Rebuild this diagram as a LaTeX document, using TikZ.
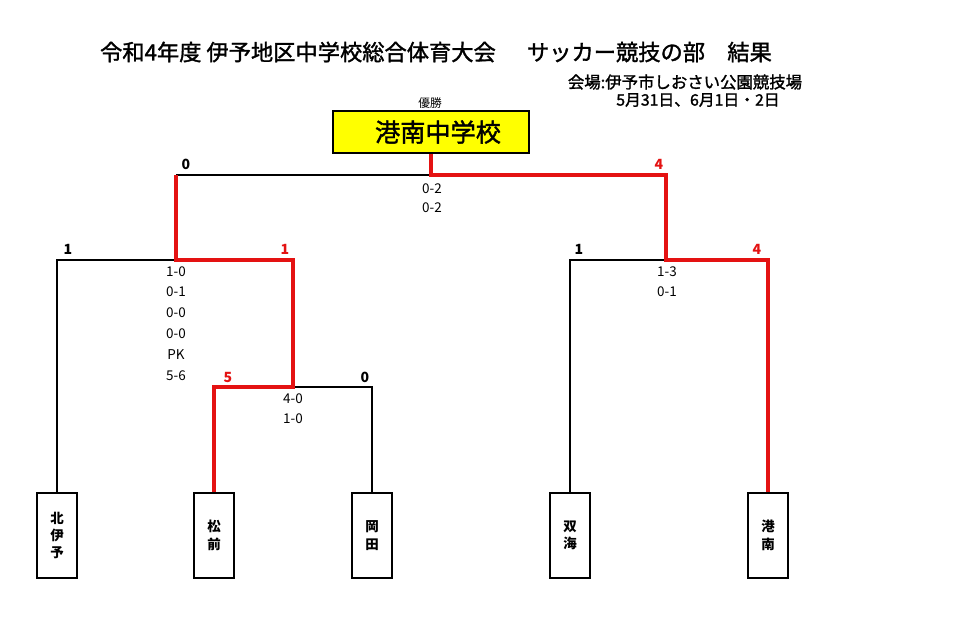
\documentclass[tikz,border=0pt]{standalone}
\usepackage{fontspec}
\setmainfont{Noto Sans CJK JP}
\newfontfamily\medfont{Noto Sans CJK JP}[FakeBold=1.5]
\usepackage{xcolor}
\usetikzlibrary{positioning,calc}
\definecolor{winred}{RGB}{228,18,18}
\definecolor{champyellow}{RGB}{255,255,0}

\begin{document}
\begin{tikzpicture}[x=0.03cm,y=-0.03cm,
        win/.style={draw=winred,line width=2.6pt},
        lose/.style={draw=black,line width=1.3pt},
        team/.style={draw,line width=1.6pt,minimum width=1.2cm,minimum height=2.55cm,inner sep=0pt,align=center,font=\fontsize{11.5}{14.8}\selectfont\bfseries},
        goals/.style={inner sep=0pt,font=\fontsize{12}{14}\selectfont\bfseries},
        scores/.style={anchor=north,align=center,inner sep=0pt,font=\fontsize{11.5}{17.9}\selectfont}
    ]
                        \useasboundingbox (0,0) rectangle (968,630);

                        \node[font=\medfont\fontsize{19}{21}\selectfont] (title) at (436,52) {令和4年度 伊予地区中学校総合体育大会\hspace{1.4em}サッカー競技の部\hspace{1em}結果};
                        \node[font=\medfont\fontsize{14}{16}\selectfont] (venue) at (685,82) {会場:伊予市しおさい公園競技場};
                        \node[font=\medfont\fontsize{13.5}{16}\selectfont] (date) at (698,100) {5月31日、6月1日・2日};

                        \node[font=\fontsize{10}{12}\selectfont] (yusho) at (430,103) {優勝};
                        \node[draw,fill=champyellow,line width=1.2pt,minimum width=5.88cm,minimum height=1.26cm,inner sep=0pt,font=\medfont\fontsize{21.5}{24}\selectfont] (champ) at (431,132) {\hspace{12pt}港南中学校};

                        \node[team] (kitaiyo) at (57,535.5) {北\\伊\\予};
                        \node[team] (masaki) at (214,535.5) {松\\前};
                        \node[team] (okada) at (372,535.5) {岡\\田};
                        \node[team] (futami) at (570,535.5) {双\\海};
                        \node[team] (konan) at (768,535.5) {港\\南};

                        \coordinate (qf) at (293,387);
                        \coordinate (semiL) at (176,260);
                        \coordinate (semiR) at (666,260);
                        \coordinate (fin) at (431,175);

                        \draw[lose] (kitaiyo.north) |- (semiL);
                        \draw[lose] (okada.north) |- (qf);
                        \draw[lose] (futami.north) |- (semiR);
                        \draw[lose] (semiL |- fin) -- (fin);

                        \draw[win] (masaki.north) |- (qf) |- (semiL) -- (semiL |- fin);
                        \draw[win] (konan.north) |- (semiR) |- (fin) -- (champ.south);

                        \node[goals] (gfinL) at (186,164) {0};
                        \node[goals,text=winred] (gfinR) at (659,164) {4};
                        \node[goals] (gkitaiyo) at (68,249) {1};
                        \node[goals,text=winred] (gmasakiS) at (285,249) {1};
                        \node[goals,text=winred] (gmasakiQ) at (228,377) {5};
                        \node[goals] (gokada) at (365,377) {0};
                        \node[goals] (gfutami) at (579,249) {1};
                        \node[goals,text=winred] (gkonan) at (757,249) {4};

                        \node[scores,font=\fontsize{11.5}{16.6}\selectfont] (scfin) at (432,183) {0-2\\0-2};
                        \node[scores] (scsemiL) at (176,266) {1-0\\0-1\\0-0\\0-0\\PK\\5-6};
                        \node[scores] (scqf) at (293,393) {4-0\\1-0};
                        \node[scores] (scsemiR) at (667,266) {1-3\\0-1};
                    \end{tikzpicture}
\end{document}
